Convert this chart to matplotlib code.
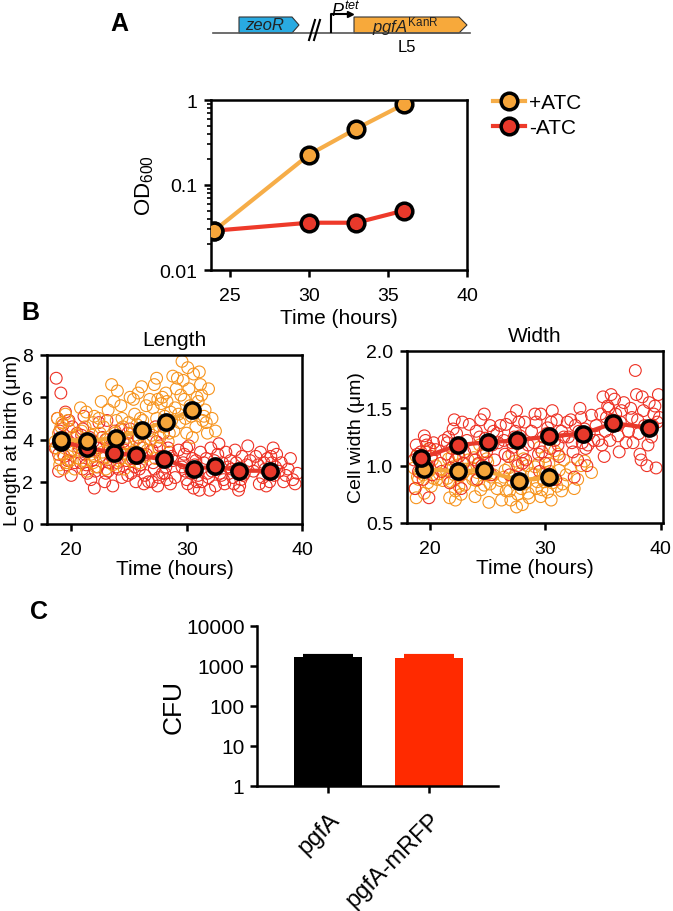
import numpy as np
import matplotlib
matplotlib.use("Agg")
import matplotlib.pyplot as plt
from matplotlib.patches import Polygon
from matplotlib.ticker import FixedLocator, FuncFormatter, LogLocator, NullFormatter

plt.rcParams['font.family'] = ['Liberation Sans Narrow', 'Liberation Sans', 'DejaVu Sans']
plt.rcParams['mathtext.fontset'] = 'custom'
plt.rcParams['mathtext.rm'] = 'Liberation Sans'
plt.rcParams['mathtext.it'] = 'Liberation Sans:italic'

ORANGE = "#f6a53a"
RED = "#e8392b"
ORANGE_RING = "#f7941d"
RED_RING = "#ee3124"

# ---- panel A: growth ----
od_time = [24, 30, 33, 36]
od_plus = [0.029, 0.227, 0.46, 0.89]
od_minus = [0.029, 0.036, 0.036, 0.050]

# ---- panel B: means ----
len_plus_mt = [19.1, 21.4, 23.9, 26.1, 28.2, 30.5]
len_plus_m = [4.0, 3.95, 4.06, 4.46, 4.85, 5.4]
len_minus_mt = [19.1, 21.4, 23.7, 25.6, 28.0, 30.6, 32.5, 34.5, 37.2]
len_minus_m = [3.9, 3.6, 3.38, 3.25, 3.06, 2.6, 2.74, 2.52, 2.52]

wid_plus_mt = [19.45, 22.4, 24.7, 27.7, 30.3]
wid_plus_m = [0.97, 0.95, 0.96, 0.87, 0.90]
wid_minus_mt = [19.2, 22.45, 25.0, 27.5, 30.3, 33.3, 35.9, 39.0]
wid_minus_m = [1.065, 1.18, 1.205, 1.22, 1.255, 1.28, 1.37, 1.33]

# ---- panel B: single cells ----
len_plus_t = [18.7, 18.9, 19.0, 19.2, 19.4, 19.6, 19.8, 20.0, 18.8, 19.5, 20.1, 19.3, 18.6, 19.9, 19.1,
              20.6, 20.9, 21.1, 21.3, 21.5, 21.7, 21.9, 22.1, 22.3, 20.8, 21.4, 21.8, 22.4, 21.0, 22.0,
              22.8, 23.0, 23.2, 23.4, 23.6, 23.8, 24.0, 24.2, 24.4, 24.6, 23.1, 23.7, 24.1, 24.5, 23.5,
              24.9, 25.1, 25.3, 25.5, 25.7, 25.9, 26.1, 26.3, 26.5, 26.7, 25.2, 25.8, 26.4, 26.0, 26.8,
              27.0, 27.2, 27.4, 27.6, 27.8, 28.0, 28.2, 28.4, 28.6, 28.8, 27.3, 27.9, 28.5, 28.1, 27.5,
              29.0, 29.2, 29.4, 29.6, 29.8, 30.0, 30.2, 30.4, 30.6, 30.8, 31.0, 31.2, 31.4, 31.6, 31.8,
              30.1, 29.5, 31.3, 32.2, 32.5]
len_plus_v = [3.6, 4.3, 3.1, 4.8, 3.8, 2.9, 4.5, 3.4, 5.0, 5.2, 4.1, 2.6, 3.9, 3.0, 4.6,
              3.5, 4.4, 3.0, 5.3, 4.0, 3.3, 4.8, 2.7, 3.7, 5.5, 2.5, 4.2, 5.0, 3.8, 3.2,
              4.6, 3.2, 5.4, 3.9, 2.8, 4.3, 6.3, 3.5, 5.0, 2.6, 4.0, 5.8, 3.0, 4.6, 6.6,
              4.1, 6.0, 3.4, 5.2, 4.7, 2.9, 6.5, 3.8, 5.6, 4.4, 3.0, 6.2, 3.2, 5.0, 5.9,
              4.2, 6.6, 5.0, 3.6, 5.7, 4.6, 6.2, 3.9, 5.3, 7.0, 3.1, 6.0, 4.3, 5.1, 5.9,
              5.5, 6.9, 4.8, 7.7, 5.9, 4.3, 6.4, 5.1, 7.1, 4.6, 5.8, 6.6, 4.9, 5.4, 4.3,
              7.4, 6.1, 6.1, 5.0, 4.4]
len_plus_t2 = [18.9, 19.3, 19.7, 20.2, 20.4, 20.7, 21.2, 21.6, 22.0, 22.5, 22.7, 23.3, 23.9, 24.3, 24.7,
               25.0, 25.4, 25.6, 26.2, 26.6, 27.1, 27.7, 28.3, 28.7, 29.1, 29.3, 29.7, 30.3, 30.5, 30.9,
               31.1, 31.5, 31.9, 19.0, 20.3, 21.9, 23.0, 24.8, 26.9, 28.9, 29.9, 30.7, 31.7, 22.6, 25.9,
               27.4]
len_plus_v2 = [4.0, 3.3, 4.9, 3.7, 4.2, 3.1, 4.6, 3.6, 5.1, 4.3, 3.4, 3.6, 4.9, 5.6, 3.8,
               4.8, 5.9, 4.0, 4.9, 3.5, 5.5, 4.1, 5.8, 4.9, 6.4, 5.2, 6.8, 5.6, 4.1, 6.0,
               7.2, 5.1, 6.4, 2.8, 2.6, 2.9, 2.6, 3.3, 4.0, 4.4, 5.0, 5.4, 4.8, 5.8, 3.7,
               6.9]

len_minus_t = [18.7, 19.1, 18.8, 19.0, 19.2, 19.4, 19.6, 19.8, 20.0, 18.9, 19.3, 19.7, 18.6, 20.1, 19.5,
               20.6, 20.8, 21.0, 21.2, 21.4, 21.6, 21.8, 22.0, 22.2, 22.4, 21.1, 21.7, 22.3, 20.9, 21.5,
               22.8, 23.0, 23.2, 23.4, 23.6, 23.8, 24.0, 24.2, 24.4, 23.1, 23.9, 24.5, 23.5, 22.9, 24.3,
               24.8, 25.0, 25.2, 25.4, 25.6, 25.8, 26.0, 26.2, 26.4, 25.1, 25.7, 26.3, 25.5, 24.9, 26.1,
               27.0, 27.2, 27.4, 27.6, 27.8, 28.0, 28.2, 28.4, 28.6, 28.8, 27.3, 27.9, 28.5, 27.5, 28.3,
               29.6, 29.8, 30.0, 30.2, 30.4, 30.6, 30.8, 31.0, 31.2, 30.1, 30.7, 31.1, 29.9, 30.5, 31.3,
               31.7, 31.9, 32.1, 32.3, 32.5, 32.7, 32.9, 33.1, 33.3, 32.2, 32.8, 33.2, 32.0, 32.6,
               33.8, 34.0, 34.2, 34.4, 34.6, 34.8, 35.0, 35.2, 34.1, 34.7, 35.3, 33.9, 34.5,
               36.2, 36.4, 36.6, 36.8, 37.0, 37.2, 37.4, 37.6, 37.8, 38.0, 38.4, 38.8, 39.2, 39.4, 36.9, 37.5]
len_minus_v = [6.9, 6.2, 5.0, 4.4, 3.8, 3.2, 2.8, 4.9, 3.5, 2.5, 4.1, 3.0, 3.6, 4.6, 5.3,
               3.8, 2.9, 4.5, 3.3, 2.4, 4.1, 3.0, 1.7, 3.6, 4.8, 5.1, 2.1, 2.7, 4.2, 3.5,
               3.1, 4.0, 2.5, 3.6, 1.8, 4.4, 2.9, 3.4, 2.2, 4.9, 2.7, 3.9, 3.2, 2.0, 4.5,
               3.0, 3.8, 2.4, 3.4, 2.0, 4.1, 2.8, 3.6, 2.3, 4.5, 3.1, 1.9, 2.7, 4.3, 3.3,
               3.5, 2.6, 3.9, 2.2, 3.2, 4.3, 2.7, 3.6, 1.9, 3.0, 4.6, 2.4, 3.4, 1.8, 2.1,
               2.7, 3.3, 2.1, 3.7, 2.4, 1.7, 3.0, 2.3, 3.4, 1.9, 2.8, 1.6, 2.5, 3.1, 2.0,
               3.1, 2.2, 3.6, 2.7, 1.8, 3.3, 2.4, 2.9, 1.9, 2.5, 3.8, 2.1, 1.6, 2.6,
               3.0, 2.2, 3.5, 2.6, 1.8, 3.2, 2.4, 2.8, 1.9, 2.1, 3.7, 2.6, 1.6,
               2.8, 3.4, 2.2, 2.6, 3.1, 2.0, 2.9, 2.3, 3.3, 2.5, 2.0, 2.6, 2.1, 1.9, 1.8, 3.6]
len_minus_t2 = [18.9, 19.3, 19.7, 20.3, 20.5, 20.7, 21.3, 21.9, 22.1, 22.5, 22.7, 23.3, 23.7, 24.1, 24.6,
                24.9, 25.3, 25.9, 26.5, 26.7, 27.1, 27.7, 28.1, 28.7, 29.0, 29.3, 29.7, 30.3, 30.9, 31.5,
                31.8, 32.4, 33.0, 33.4, 33.6, 34.3, 34.9, 35.5, 35.8, 36.0, 36.3, 36.7, 37.1, 37.3, 37.7,
                38.2, 38.6, 39.0, 39.6, 20.0, 21.0, 23.0, 27.0, 30.0]
len_minus_v2 = [3.3, 4.7, 3.9, 2.9, 4.3, 3.6, 2.8, 3.9, 2.5, 3.2, 4.1, 2.9, 3.8, 2.6, 3.5,
                2.3, 3.1, 2.6, 3.3, 2.0, 2.9, 3.7, 2.4, 3.2, 2.2, 3.5, 2.9, 2.6, 2.0, 2.9,
                2.4, 3.0, 2.3, 3.4, 2.7, 2.9, 2.3, 3.0, 2.5, 3.2, 1.9, 2.9, 2.4, 3.2, 2.7,
                2.9, 2.3, 3.1, 2.4, 2.3, 2.6, 2.4, 2.0, 3.6]

wid_plus_t = [18.6, 18.8, 19.0, 19.2, 19.4, 19.6, 19.8, 20.0, 20.2, 18.7, 19.5, 19.9, 19.1, 20.3,
              21.4, 21.6, 21.8, 22.0, 22.2, 22.4, 22.6, 22.8, 23.0, 21.7, 22.3, 22.9, 21.5, 22.7,
              23.6, 23.8, 24.0, 24.2, 24.4, 24.6, 24.8, 25.0, 25.2, 23.9, 24.5, 25.1, 24.3, 25.3,
              26.4, 26.6, 26.8, 27.0, 27.2, 27.4, 27.6, 27.8, 28.0, 28.2, 28.4, 27.1, 27.9, 28.6, 27.5,
              29.0, 29.2, 29.4, 29.6, 29.8, 30.0, 30.2, 30.4, 30.6, 30.8, 31.0, 31.2, 31.4, 29.5, 30.5,
              31.6, 29.9, 32.2, 32.8, 33.4, 34.0]
wid_plus_v = [0.98, 1.08, 0.88, 1.02, 0.92, 1.12, 0.85, 0.97, 1.05, 0.80, 0.76, 1.15, 0.94, 0.89,
              0.96, 1.06, 0.86, 0.99, 0.78, 1.10, 0.91, 1.02, 0.83, 0.72, 1.16, 0.94, 0.89, 0.75,
              0.98, 1.07, 0.87, 1.01, 0.79, 1.12, 0.92, 1.03, 0.84, 0.73, 0.95, 0.68, 1.18, 0.90,
              0.90, 0.78, 0.98, 0.70, 0.86, 1.04, 0.75, 0.93, 0.66, 0.84, 1.00, 1.10, 0.80, 0.72, 0.64,
              0.92, 0.80, 1.02, 0.73, 0.88, 1.08, 0.77, 0.95, 0.85, 1.13, 0.82, 0.96, 0.78, 1.16, 0.70,
              1.05, 0.86, 0.98, 0.88, 1.04, 0.94]
wid_plus_t2 = [18.9, 19.3, 19.7, 20.1, 20.5, 20.8, 21.1, 21.9, 22.1, 22.5, 23.1, 23.3, 23.7, 24.1, 24.7,
               24.9, 25.5, 25.8, 26.1, 26.5, 26.9, 27.3, 27.7, 28.1, 28.5, 28.8, 29.1, 29.3, 29.7, 30.1,
               30.3, 30.7, 31.1, 31.5, 31.8, 32.5, 33.1, 18.8, 20.6, 22.2, 26.2]
wid_plus_v2 = [0.90, 1.05, 0.95, 0.82, 1.00, 0.93, 0.87, 1.08, 0.92, 0.82, 0.97, 1.05, 0.88, 0.94, 0.83,
               1.06, 0.92, 0.80, 0.87, 0.96, 0.78, 0.91, 0.84, 1.06, 0.76, 0.93, 0.99, 0.86, 0.79, 0.94,
               1.02, 0.88, 1.10, 0.84, 0.92, 0.80, 1.00, 0.72, 0.88, 0.70, 0.70]

wid_minus_t = [18.6, 18.8, 19.0, 19.2, 19.4, 19.6, 19.8, 20.0, 20.2, 18.7, 19.5, 19.9, 19.1, 20.3,
               21.4, 21.6, 21.8, 22.0, 22.2, 22.4, 22.6, 22.8, 23.0, 21.7, 22.3, 22.9, 21.5, 22.7,
               23.8, 24.0, 24.2, 24.4, 24.6, 24.8, 25.0, 25.2, 25.4, 25.6, 24.1, 24.7, 25.3, 25.8,
               26.4, 26.6, 26.8, 27.0, 27.2, 27.4, 27.6, 27.8, 28.0, 28.2, 26.9, 27.5, 28.3, 27.1,
               29.0, 29.2, 29.4, 29.6, 29.8, 30.0, 30.2, 30.4, 30.6, 30.8, 31.0, 31.2, 29.5, 30.9, 31.4,
               32.0, 32.2, 32.4, 32.6, 32.8, 33.0, 33.2, 33.4, 33.6, 33.8, 34.0, 32.5, 33.5, 34.2,
               34.8, 35.0, 35.2, 35.4, 35.6, 35.8, 36.0, 36.2, 36.4, 36.6, 35.1, 35.7, 36.3, 34.9,
               37.2, 37.4, 37.6, 37.8, 38.0, 38.2, 38.4, 38.6, 38.8, 39.0, 39.2, 39.4, 39.6, 39.8, 38.3, 39.7, 37.9]
wid_minus_v = [1.05, 1.18, 0.95, 1.12, 0.88, 1.22, 1.00, 1.15, 0.92, 0.80, 1.26, 0.72, 1.08, 1.20,
               1.10, 1.25, 0.98, 1.32, 1.05, 1.18, 0.92, 1.38, 1.12, 0.85, 1.28, 1.02, 1.20, 0.80,
               1.15, 1.30, 1.02, 1.40, 1.10, 1.24, 0.96, 1.35, 1.18, 1.05, 0.88, 1.45, 0.92, 1.28,
               1.22, 1.36, 1.08, 1.42, 1.16, 1.30, 1.00, 1.26, 1.12, 1.38, 0.92, 1.48, 1.05, 1.20,
               1.20, 1.38, 1.10, 1.45, 1.25, 1.02, 1.33, 1.15, 1.48, 1.22, 1.40, 1.08, 0.95, 0.88, 1.30,
               1.25, 1.40, 1.12, 1.35, 1.05, 1.50, 1.20, 1.32, 1.00, 1.28, 1.44, 0.90, 1.15, 1.22,
               1.45, 1.60, 1.30, 1.52, 1.22, 1.40, 1.58, 1.35, 1.12, 1.48, 1.08, 1.62, 1.26, 1.18,
               1.30, 1.50, 1.20, 1.83, 1.40, 1.10, 1.60, 1.35, 1.00, 1.55, 1.25, 1.45, 0.98, 1.62, 1.05, 1.38, 1.62]
wid_minus_t2 = [18.9, 19.3, 19.7, 20.1, 20.5, 20.9, 21.2, 21.9, 22.1, 22.5, 23.2, 23.4, 23.9, 24.3, 24.9,
                25.5, 25.9, 26.1, 26.5, 27.3, 27.7, 28.5, 28.8, 29.1, 29.7, 30.1, 30.5, 31.1, 31.6, 31.9,
                32.3, 32.9, 33.1, 33.7, 34.4, 34.6, 35.3, 35.5, 36.1, 36.5, 36.8, 37.0, 37.5, 38.1, 38.5,
                38.9, 39.3, 39.5, 39.9, 21.0, 24.5, 28.0]
wid_minus_v2 = [1.10, 1.00, 1.18, 1.08, 1.14, 1.02, 1.22, 1.15, 1.40, 1.08, 1.22, 1.36, 1.05, 1.25, 1.12,
                1.30, 1.20, 1.35, 1.10, 1.25, 1.38, 1.18, 1.30, 1.45, 1.12, 1.28, 1.38, 1.18, 1.25, 1.38,
                1.20, 1.30, 1.42, 1.18, 1.35, 1.22, 1.42, 1.50, 1.45, 1.38, 1.55, 1.20, 1.42, 1.28, 1.48,
                1.18, 1.35, 1.52, 1.42, 0.95, 1.00, 1.02]

# ---- panel C ----
strains = ["pgfA", "pgfA-mRFP"]
cfu = [1710, 1585]
cfu_err = [100, 160]
bar_colors = ["black", "#ff2a00"]

W, H = 673, 912
fig = plt.figure(figsize=(W / 100, H / 100), dpi=100)


def box(x0, y0, x1, y1):
    return [x0 / W, 1 - y1 / H, (x1 - x0) / W, (y1 - y0) / H]


def style(ax, lw=1.8):
    for s in ax.spines.values():
        s.set_linewidth(lw)
    ax.tick_params(width=lw, length=5, labelsize=14, pad=5)
    ax.tick_params(axis='x', pad=7)
    ax.tick_params(which='minor', width=1.2, length=3)


def rings(ax, t, v, color):
    ax.scatter(t, v, s=72, facecolors='none', edgecolors=color, lw=0.8, zorder=2)


# construct diagram (top)
dg = fig.add_axes([0, 0, 1, 1])
dg.set_xlim(0, W)
dg.set_ylim(H, 0)
dg.axis('off')
dg.plot([213, 470], [34, 34], color='#555555', lw=1.2)
dg.add_patch(Polygon([(239, 18), (292, 18), (299, 26), (292, 34), (239, 34)],
                     closed=True, fc='#29aae1', ec='#333333', lw=0.8))
dg.add_patch(Polygon([(354, 18), (459, 18), (467, 26), (459, 34), (354, 34)],
                     closed=True, fc='#f7a93b', ec='#333333', lw=0.8))
dg.text(265, 26, 'zeoR', style='italic', fontsize=12, ha='center', va='center', color='#222222')
dg.text(405, 27, r'$\it{pgfA}^{\rm{KanR}}$', fontsize=12, ha='center', va='center', color='#222222')
dg.plot([309, 315], [41, 21], color='black', lw=1.5)
dg.plot([314, 320], [41, 21], color='black', lw=1.5)
dg.plot([331, 331, 348], [33, 15, 15], color='black', lw=1.5)
dg.plot([350], [15], marker='>', color='black', markersize=5)
dg.text(331, 11, r'$\it{P}^{\it{tet}}$', fontsize=13, ha='left', va='center')
dg.text(407, 47, 'L5', fontsize=12, ha='center', va='center')
dg.text(119, 24, 'A', fontsize=18, fontweight='bold', ha='center', va='center', family='Liberation Sans')
dg.text(30, 313, 'B', fontsize=18, fontweight='bold', ha='center', va='center', family='Liberation Sans')
dg.text(39, 612, 'C', fontsize=18, fontweight='bold', ha='center', va='center', family='Liberation Sans')

# panel A
ax = fig.add_axes(box(211, 101, 467, 271))
ax.plot(od_time, od_minus, '-o', color='#ee3a2a', lw=3, mfc=RED, mec='black', mew=2.5, ms=12,
        label='-ATC', zorder=3)
ax.plot(od_time, od_plus, '-o', color='#f6ad48', lw=3, mfc=ORANGE, mec='black', mew=2.5, ms=12,
        label='+ATC', zorder=4)
ax.set_yscale('log')
ax.set_ylim(0.01, 1)
ax.set_xlim(23.8, 40)
ax.set_xticks([25, 30, 35, 40])
ax.yaxis.set_major_locator(FixedLocator([0.01, 0.1, 1]))
ax.yaxis.set_major_formatter(FuncFormatter(lambda v, p: {0.01: '0.01', 0.1: '0.1', 1: '1'}.get(round(v, 3), '')))
ax.yaxis.set_minor_locator(LogLocator(base=10, subs=np.arange(2, 10)))
ax.yaxis.set_minor_formatter(NullFormatter())
ax.set_xlabel('Time (hours)', fontsize=15, labelpad=3)
ax.set_ylabel(r'OD$_{600}$', fontsize=16, labelpad=2)
style(ax)
h, l = ax.get_legend_handles_labels()
ax.legend(h[::-1], l[::-1], loc='upper left', bbox_to_anchor=(1.07, 1.09), frameon=False,
          fontsize=15, handlelength=1.5, handletextpad=0.2, labelspacing=0.3, borderaxespad=0)

# panel B: Length
ax = fig.add_axes(box(47, 356, 302, 525))
rings(ax, len_minus_t + len_minus_t2, len_minus_v + len_minus_v2, RED_RING)
rings(ax, len_plus_t + len_plus_t2, len_plus_v + len_plus_v2, ORANGE_RING)
ax.plot(len_minus_mt, len_minus_m, '-o', color=RED, lw=3, mfc=RED, mec='black', mew=2.5, ms=11, zorder=4)
ax.plot(len_plus_mt, len_plus_m, '-o', color=ORANGE, lw=3, mfc=ORANGE, mec='black', mew=2.5, ms=11, zorder=5)
ax.set_xlim(17.9, 40)
ax.set_ylim(0, 8)
ax.set_xticks([20, 30, 40])
ax.set_yticks([0, 2, 4, 6, 8])
ax.set_title('Length', fontsize=15, pad=7)
ax.set_xlabel('Time (hours)', fontsize=15, labelpad=1)
ax.set_ylabel('Length at birth (μm)', fontsize=14, labelpad=1)
style(ax)

# panel B: Width
ax = fig.add_axes(box(407, 352, 663, 524))
rings(ax, wid_plus_t + wid_plus_t2, wid_plus_v + wid_plus_v2, ORANGE_RING)
rings(ax, wid_minus_t + wid_minus_t2, wid_minus_v + wid_minus_v2, RED_RING)
ax.plot(wid_plus_mt, wid_plus_m, '-o', color=ORANGE, lw=3, mfc=ORANGE, mec='black', mew=2.5, ms=11, zorder=4)
ax.plot(wid_minus_mt, wid_minus_m, '-o', color=RED, lw=3, mfc=RED, mec='black', mew=2.5, ms=11, zorder=5)
ax.set_xlim(18, 40.2)
ax.set_ylim(0.5, 2.0)
ax.set_xticks([20, 30, 40])
ax.set_yticks([0.5, 1.0, 1.5, 2.0])
ax.yaxis.set_major_formatter(FuncFormatter(lambda v, p: f'{v:.1f}'))
ax.set_title('Width', fontsize=15, pad=7)
ax.set_xlabel('Time (hours)', fontsize=15, labelpad=1)
ax.set_ylabel('Cell width (μm)', fontsize=14, labelpad=1)
style(ax)

# panel C
ax = fig.add_axes(box(257, 627, 498, 787))
xs = np.arange(len(strains))
ax.bar(xs, cfu, width=0.67, color=bar_colors, zorder=2)
for x, v, e, c in zip(xs, cfu, cfu_err, bar_colors):
    ax.errorbar([x], [v], yerr=[[0], [e]], fmt='none', ecolor=c, elinewidth=3, capsize=18,
                capthick=3, zorder=3)
ax.set_yscale('log')
ax.set_ylim(1, 10000)
ax.set_xlim(-0.7, 1.68)
ax.yaxis.set_major_locator(FixedLocator([1, 10, 100, 1000, 10000]))
ax.yaxis.set_major_formatter(FuncFormatter(lambda v, p: f'{int(round(v))}'))
ax.yaxis.set_minor_locator(LogLocator(base=10, subs=np.arange(2, 10)))
ax.yaxis.set_minor_formatter(NullFormatter())
ax.set_xticks(xs)
ax.set_xticklabels(strains, rotation=45, ha='right', rotation_mode='anchor')
ax.spines['top'].set_visible(False)
ax.spines['right'].set_visible(False)
ax.set_ylabel('CFU', fontsize=19, labelpad=0)
style(ax)
ax.tick_params(axis='y', labelsize=15, pad=4)
ax.tick_params(axis='x', labelsize=17, pad=11)

fig.savefig('out.png', dpi=100)
